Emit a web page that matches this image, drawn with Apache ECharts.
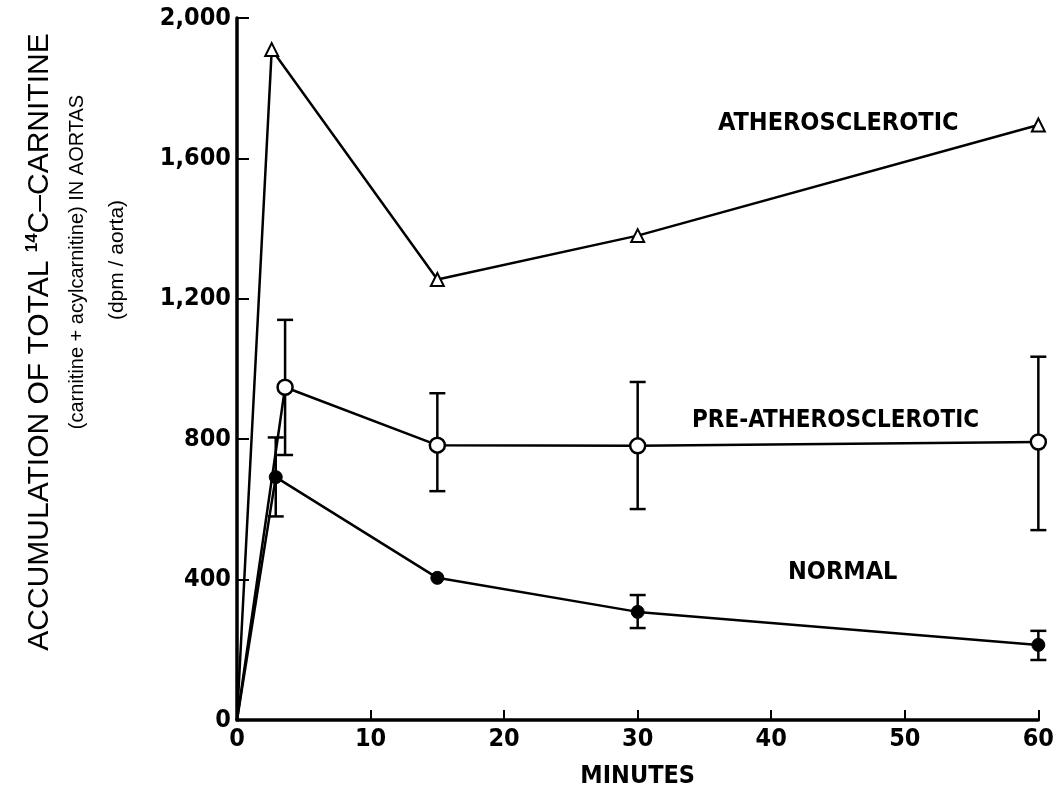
<!DOCTYPE html>
<html>
<head>
<meta charset="utf-8">
<script src="https://cdn.jsdelivr.net/npm/echarts@6/dist/echarts.min.js"></script>
<style>
  html, body { margin: 0; padding: 0; background: #fff; }
  #chart { width: 1057px; height: 796px; }
</style>
</head>
<body>
<div id="chart"></div>
<script>
// minutes / dpm per aorta
var atheroX = [0, 2.6, 15, 30, 60];
var atheroY = [0, 1910, 1255, 1380, 1695];

var preX = [0, 3.6, 15, 30, 60];
var preY = [0, 948, 783, 781, 792];
var preLo = [null, 755, 652, 601, 541];
var preHi = [null, 1140, 931, 963, 1035];

var normX = [0, 2.9, 15, 30, 60];
var normY = [0, 692, 405, 308, 214];
var normLo = [null, 580, null, 262, 171];
var normHi = [null, 805, null, 356, 254];

var xTicks = [0, 10, 20, 30, 40, 50, 60];
var yTicks = [0, 400, 800, 1200, 1600, 2000];

var FONT = "'Liberation Sans Narrow', 'DejaVu Sans Condensed', Arial, sans-serif";

function pairs(xs, ys) {
    var out = [];
    for (var i = 0; i < xs.length; i++) {
        // first point sits on the origin, no marker there
        if (i === 0) out.push({ value: [xs[i], ys[i]], symbol: 'none' });
        else out.push([xs[i], ys[i]]);
    }
    return out;
}
function errData(xs, lo, hi) {
    var out = [];
    for (var i = 0; i < xs.length; i++) {
        if (lo[i] != null) out.push([xs[i], lo[i], hi[i]]);
    }
    return out;
}
function errRender(params, api) {
    var x = api.value(0);
    var p1 = api.coord([x, api.value(1)]);
    var p2 = api.coord([x, api.value(2)]);
    var w = 8;
    var st = { stroke: '#000', lineWidth: 2.5 };
    return {
        type: 'group',
        children: [
            { type: 'line', shape: { x1: p1[0], y1: p1[1], x2: p2[0], y2: p2[1] }, style: st },
            { type: 'line', shape: { x1: p1[0] - w, y1: p1[1], x2: p1[0] + w, y2: p1[1] }, style: st },
            { type: 'line', shape: { x1: p2[0] - w, y1: p2[1], x2: p2[0] + w, y2: p2[1] }, style: st }
        ]
    };
}

var chart = echarts.init(document.getElementById('chart'));

var option = {
    backgroundColor: '#fff',
    animation: false,
    grid: { left: 237, right: 15, top: 18, bottom: 76 },
    xAxis: {
        type: 'value',
        min: 0, max: 60, interval: 10,
        axisLine: { lineStyle: { color: '#000', width: 3.5 } },
        axisTick: { inside: true, length: 10, lineStyle: { color: '#000', width: 2 } },
        axisLabel: { color: '#000', fontFamily: FONT, fontWeight: 'bold', fontSize: 25, margin: 7 },
        splitLine: { show: false },
        name: 'MINUTES',
        nameLocation: 'middle',
        nameGap: 44,
        nameTextStyle: { color: '#000', fontFamily: FONT, fontWeight: 'bold', fontSize: 25 }
    },
    yAxis: {
        type: 'value',
        min: 0, max: 2000, interval: 400,
        axisLine: { show: true, lineStyle: { color: '#000', width: 3.5 } },
        axisTick: { show: true, inside: true, length: 12, lineStyle: { color: '#000', width: 2 } },
        axisLabel: {
            color: '#000', fontFamily: FONT, fontWeight: 'bold', fontSize: 25, margin: 6,
            formatter: function (v) { return v.toLocaleString('en-US'); }
        },
        splitLine: { show: false }
    },
    graphic: [
        {
            type: 'text', left: 718, top: 111,
            style: { text: 'ATHEROSCLEROTIC', font: 'bold 25px ' + FONT, fill: '#000' }
        },
        {
            type: 'text', left: 692, top: 409,
            style: { text: 'PRE-ATHEROSCLEROTIC', font: 'bold 24px ' + FONT, fill: '#000' }
        },
        {
            type: 'text', left: 788, top: 560,
            style: { text: 'NORMAL', font: 'bold 25px ' + FONT, fill: '#000' }
        },
        {
            type: 'text', x: 40, y: 342, rotation: Math.PI / 2,
            style: {
                text: 'ACCUMULATION OF TOTAL {sup|14}C\u2013CARNITINE',
                font: '30px Arial, "Liberation Sans", sans-serif', fill: '#000',
                align: 'center', verticalAlign: 'middle',
                rich: { sup: { fontSize: 17, fontFamily: 'Arial', fontWeight: 'bold', padding: [0, 0, 16, 0] } }
            }
        },
        {
            type: 'text', x: 77, y: 262, rotation: Math.PI / 2,
            style: {
                text: '(carnitine + acylcarnitine) IN AORTAS',
                font: '20px Arial, "Liberation Sans", sans-serif', fill: '#000',
                align: 'center', verticalAlign: 'middle'
            }
        },
        {
            type: 'text', x: 117, y: 260, rotation: Math.PI / 2,
            style: {
                text: '(dpm / aorta)',
                font: '21px Arial, "Liberation Sans", sans-serif', fill: '#000',
                align: 'center', verticalAlign: 'middle'
            }
        }
    ],
    series: [
        {
            name: 'Atherosclerotic', type: 'line',
            data: pairs(atheroX, atheroY),
            symbol: 'triangle', symbolSize: 13,
            lineStyle: { color: '#000', width: 2.5 },
            itemStyle: { color: '#fff', borderColor: '#000', borderWidth: 2 },
            z: 3
        },
        {
            name: 'Pre-atherosclerotic', type: 'line',
            data: pairs(preX, preY),
            symbol: 'circle', symbolSize: 15,
            lineStyle: { color: '#000', width: 2.5 },
            itemStyle: { color: '#fff', borderColor: '#000', borderWidth: 2.5 },
            z: 4
        },
        {
            name: 'Normal', type: 'line',
            data: pairs(normX, normY),
            symbol: 'circle', symbolSize: 13,
            lineStyle: { color: '#000', width: 2.5 },
            itemStyle: { color: '#000', borderColor: '#000', borderWidth: 1 },
            z: 4
        },
        {
            type: 'custom', renderItem: errRender,
            data: errData(preX, preLo, preHi), z: 2
        },
        {
            type: 'custom', renderItem: errRender,
            data: errData(normX, normLo, normHi), z: 2
        }
    ]
};

chart.setOption(option);
</script>
</body>
</html>
